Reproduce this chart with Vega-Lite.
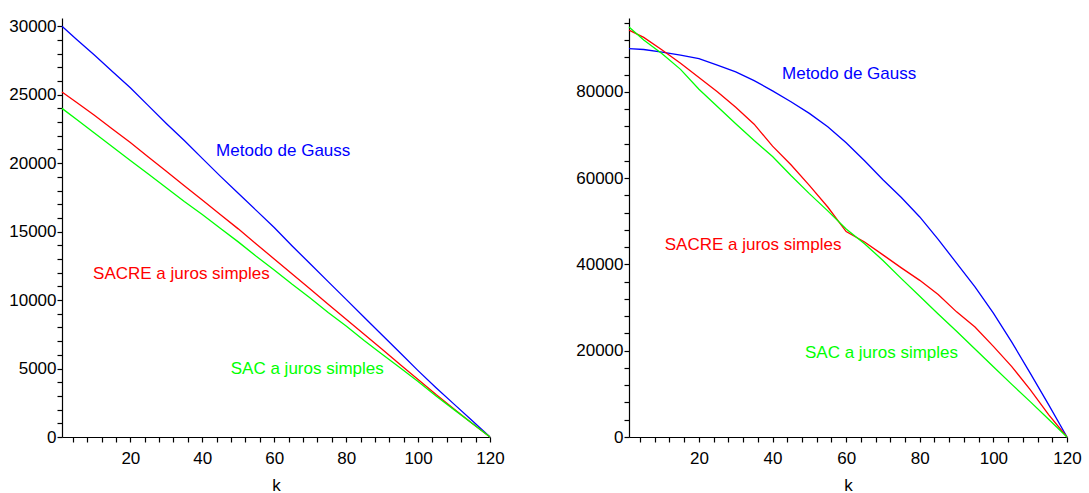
{
  "$schema": "https://vega.github.io/schema/vega-lite/v6.json",
  "padding": {"left": 8, "top": 13, "right": 5, "bottom": 5},
  "spacing": 70,
  "config": {
    "view": {"stroke": null},
    "font": "Liberation Sans",
    "axis": {"domainColor": "#000000", "tickColor": "#000000", "labelColor": "#000000", "titleColor": "#000000", "labelFontSize": 17, "titleFontSize": 17, "titleFontWeight": "normal", "grid": false, "tickSize": 5, "domainWidth": 1.2, "tickWidth": 1.2}
  },
  "datasets": {
    "left": [
      {"k":1,"v":30000,"s":"G"},{"k":5,"v":29050,"s":"G"},{"k":10,"v":27900,"s":"G"},{"k":15,"v":26700,"s":"G"},{"k":20,"v":25500,"s":"G"},{"k":25,"v":24200,"s":"G"},{"k":30,"v":22900,"s":"G"},{"k":35,"v":21650,"s":"G"},{"k":40,"v":20350,"s":"G"},{"k":45,"v":19050,"s":"G"},{"k":50,"v":17800,"s":"G"},{"k":55,"v":16550,"s":"G"},{"k":60,"v":15300,"s":"G"},{"k":65,"v":13950,"s":"G"},{"k":70,"v":12650,"s":"G"},{"k":75,"v":11350,"s":"G"},{"k":80,"v":10050,"s":"G"},{"k":85,"v":8750,"s":"G"},{"k":90,"v":7450,"s":"G"},{"k":95,"v":6150,"s":"G"},{"k":100,"v":4850,"s":"G"},{"k":105,"v":3600,"s":"G"},{"k":110,"v":2400,"s":"G"},{"k":115,"v":1200,"s":"G"},{"k":120,"v":0,"s":"G"},
      {"k":1,"v":25200,"s":"R"},{"k":5,"v":24450,"s":"R"},{"k":10,"v":23500,"s":"R"},{"k":15,"v":22500,"s":"R"},{"k":20,"v":21500,"s":"R"},{"k":25,"v":20450,"s":"R"},{"k":30,"v":19400,"s":"R"},{"k":35,"v":18350,"s":"R"},{"k":40,"v":17300,"s":"R"},{"k":45,"v":16250,"s":"R"},{"k":50,"v":15200,"s":"R"},{"k":55,"v":14100,"s":"R"},{"k":60,"v":13000,"s":"R"},{"k":65,"v":11900,"s":"R"},{"k":70,"v":10800,"s":"R"},{"k":75,"v":9700,"s":"R"},{"k":80,"v":8600,"s":"R"},{"k":85,"v":7500,"s":"R"},{"k":90,"v":6400,"s":"R"},{"k":95,"v":5300,"s":"R"},{"k":100,"v":4200,"s":"R"},{"k":105,"v":3100,"s":"R"},{"k":110,"v":2050,"s":"R"},{"k":115,"v":1000,"s":"R"},{"k":120,"v":0,"s":"R"},
      {"k":1,"v":24000,"s":"S"},{"k":5,"v":23200,"s":"S"},{"k":10,"v":22200,"s":"S"},{"k":15,"v":21200,"s":"S"},{"k":20,"v":20200,"s":"S"},{"k":25,"v":19200,"s":"S"},{"k":30,"v":18200,"s":"S"},{"k":35,"v":17200,"s":"S"},{"k":40,"v":16250,"s":"S"},{"k":45,"v":15250,"s":"S"},{"k":50,"v":14250,"s":"S"},{"k":55,"v":13200,"s":"S"},{"k":60,"v":12200,"s":"S"},{"k":65,"v":11150,"s":"S"},{"k":70,"v":10150,"s":"S"},{"k":75,"v":9100,"s":"S"},{"k":80,"v":8100,"s":"S"},{"k":85,"v":7050,"s":"S"},{"k":90,"v":6050,"s":"S"},{"k":95,"v":5050,"s":"S"},{"k":100,"v":4050,"s":"S"},{"k":105,"v":3000,"s":"S"},{"k":110,"v":2000,"s":"S"},{"k":115,"v":1000,"s":"S"},{"k":120,"v":0,"s":"S"}
    ],
    "right": [
      {"k":1,"v":90000,"s":"G"},{"k":5,"v":89800,"s":"G"},{"k":10,"v":89200,"s":"G"},{"k":15,"v":88500,"s":"G"},{"k":20,"v":87700,"s":"G"},{"k":25,"v":86200,"s":"G"},{"k":30,"v":84600,"s":"G"},{"k":35,"v":82600,"s":"G"},{"k":40,"v":80200,"s":"G"},{"k":45,"v":77700,"s":"G"},{"k":50,"v":75000,"s":"G"},{"k":55,"v":71900,"s":"G"},{"k":60,"v":68200,"s":"G"},{"k":65,"v":64000,"s":"G"},{"k":70,"v":59600,"s":"G"},{"k":75,"v":55500,"s":"G"},{"k":80,"v":51000,"s":"G"},{"k":85,"v":45800,"s":"G"},{"k":90,"v":40300,"s":"G"},{"k":95,"v":34800,"s":"G"},{"k":100,"v":28700,"s":"G"},{"k":105,"v":22000,"s":"G"},{"k":110,"v":14800,"s":"G"},{"k":115,"v":7500,"s":"G"},{"k":120,"v":0,"s":"G"},
      {"k":1,"v":94300,"s":"R"},{"k":5,"v":92600,"s":"R"},{"k":10,"v":89700,"s":"R"},{"k":15,"v":86600,"s":"R"},{"k":20,"v":83300,"s":"R"},{"k":25,"v":80000,"s":"R"},{"k":30,"v":76400,"s":"R"},{"k":35,"v":72500,"s":"R"},{"k":40,"v":67400,"s":"R"},{"k":45,"v":63100,"s":"R"},{"k":50,"v":58300,"s":"R"},{"k":55,"v":53300,"s":"R"},{"k":60,"v":47600,"s":"R"},{"k":65,"v":45200,"s":"R"},{"k":70,"v":42200,"s":"R"},{"k":75,"v":39200,"s":"R"},{"k":80,"v":36300,"s":"R"},{"k":85,"v":33000,"s":"R"},{"k":90,"v":29000,"s":"R"},{"k":95,"v":25500,"s":"R"},{"k":100,"v":21000,"s":"R"},{"k":105,"v":16300,"s":"R"},{"k":110,"v":11000,"s":"R"},{"k":115,"v":5200,"s":"R"},{"k":120,"v":0,"s":"R"},
      {"k":1,"v":95000,"s":"S"},{"k":5,"v":92000,"s":"S"},{"k":10,"v":88800,"s":"S"},{"k":15,"v":85200,"s":"S"},{"k":20,"v":80600,"s":"S"},{"k":25,"v":76600,"s":"S"},{"k":30,"v":72600,"s":"S"},{"k":35,"v":68700,"s":"S"},{"k":40,"v":65000,"s":"S"},{"k":45,"v":60600,"s":"S"},{"k":50,"v":56400,"s":"S"},{"k":55,"v":52400,"s":"S"},{"k":60,"v":48200,"s":"S"},{"k":65,"v":44800,"s":"S"},{"k":70,"v":40900,"s":"S"},{"k":75,"v":36700,"s":"S"},{"k":80,"v":32600,"s":"S"},{"k":85,"v":28500,"s":"S"},{"k":90,"v":24500,"s":"S"},{"k":95,"v":20400,"s":"S"},{"k":100,"v":16300,"s":"S"},{"k":105,"v":12200,"s":"S"},{"k":110,"v":8200,"s":"S"},{"k":115,"v":4100,"s":"S"},{"k":120,"v":0,"s":"S"}
    ],
    "leftLabels": [
      {"k":62.5,"v":20900,"s":"G","t":"Metodo de Gauss"},
      {"k":34.2,"v":11900,"s":"R","t":"SACRE a juros simples"},
      {"k":69.2,"v":4970,"s":"S","t":"SAC a juros simples"}
    ],
    "rightLabels": [
      {"k":60.8,"v":84200,"s":"G","t":"Metodo de Gauss"},
      {"k":34.7,"v":44500,"s":"R","t":"SACRE a juros simples"},
      {"k":69.6,"v":19500,"s":"S","t":"SAC a juros simples"}
    ]
  },
  "hconcat": [
    {
      "width": 428,
      "height": 419,
      "layer": [
        {
          "data": {"name": "left"},
          "mark": {"type": "line", "strokeWidth": 1.3},
          "encoding": {
            "x": {"field": "k", "type": "quantitative", "scale": {"domain": [1, 120], "nice": false, "zero": false}, "axis": {"title": "k", "format": "d", "tickCount": 500, "values": [4,8,12,16,20,24,28,32,36,40,44,48,52,56,60,64,68,72,76,80,84,88,92,96,100,104,108,112,116,120], "labelExpr": "datum.value % 20 == 0 ? datum.label : ''", "labelOverlap": false, "labelFlush": false, "labelBound": false, "labelPadding": 8, "titlePadding": 11}},
            "y": {"field": "v", "type": "quantitative", "scale": {"domain": [0, 30600], "nice": false}, "axis": {"title": null, "format": "d", "tickCount": 500, "values": [0,1000,2000,3000,4000,5000,6000,7000,8000,9000,10000,11000,12000,13000,14000,15000,16000,17000,18000,19000,20000,21000,22000,23000,24000,25000,26000,27000,28000,29000,30000], "labelExpr": "datum.value % 5000 == 0 ? datum.label : ''", "labelOverlap": false, "labelFlush": false, "labelBound": false, "labelPadding": 1}},
            "color": {"field": "s", "type": "nominal", "scale": {"domain": ["G", "R", "S"], "range": ["#0000ff", "#ff0000", "#00ff00"]}, "legend": null}
          }
        },
        {
          "data": {"name": "leftLabels"},
          "mark": {"type": "text", "fontSize": 17, "align": "center", "baseline": "middle"},
          "encoding": {
            "x": {"field": "k", "type": "quantitative"},
            "y": {"field": "v", "type": "quantitative"},
            "text": {"field": "t"},
            "color": {"field": "s", "type": "nominal", "legend": null}
          }
        }
      ]
    },
    {
      "width": 438,
      "height": 419,
      "layer": [
        {
          "data": {"name": "right"},
          "mark": {"type": "line", "strokeWidth": 1.3},
          "encoding": {
            "x": {"field": "k", "type": "quantitative", "scale": {"domain": [1, 120], "nice": false, "zero": false}, "axis": {"title": "k", "format": "d", "tickCount": 500, "values": [4,8,12,16,20,24,28,32,36,40,44,48,52,56,60,64,68,72,76,80,84,88,92,96,100,104,108,112,116,120], "labelExpr": "datum.value % 20 == 0 ? datum.label : ''", "labelOverlap": false, "labelFlush": false, "labelBound": false, "labelPadding": 8, "titlePadding": 11}},
            "y": {"field": "v", "type": "quantitative", "scale": {"domain": [0, 97100], "nice": false}, "axis": {"title": null, "format": "d", "tickCount": 500, "values": [0,4000,8000,12000,16000,20000,24000,28000,32000,36000,40000,44000,48000,52000,56000,60000,64000,68000,72000,76000,80000,84000,88000,92000,96000], "labelExpr": "datum.value % 20000 == 0 ? datum.label : ''", "labelOverlap": false, "labelFlush": false, "labelBound": false, "labelPadding": 1}},
            "color": {"field": "s", "type": "nominal", "scale": {"domain": ["G", "R", "S"], "range": ["#0000ff", "#ff0000", "#00ff00"]}, "legend": null}
          }
        },
        {
          "data": {"name": "rightLabels"},
          "mark": {"type": "text", "fontSize": 17, "align": "center", "baseline": "middle"},
          "encoding": {
            "x": {"field": "k", "type": "quantitative"},
            "y": {"field": "v", "type": "quantitative"},
            "text": {"field": "t"},
            "color": {"field": "s", "type": "nominal", "legend": null}
          }
        }
      ]
    }
  ]
}
